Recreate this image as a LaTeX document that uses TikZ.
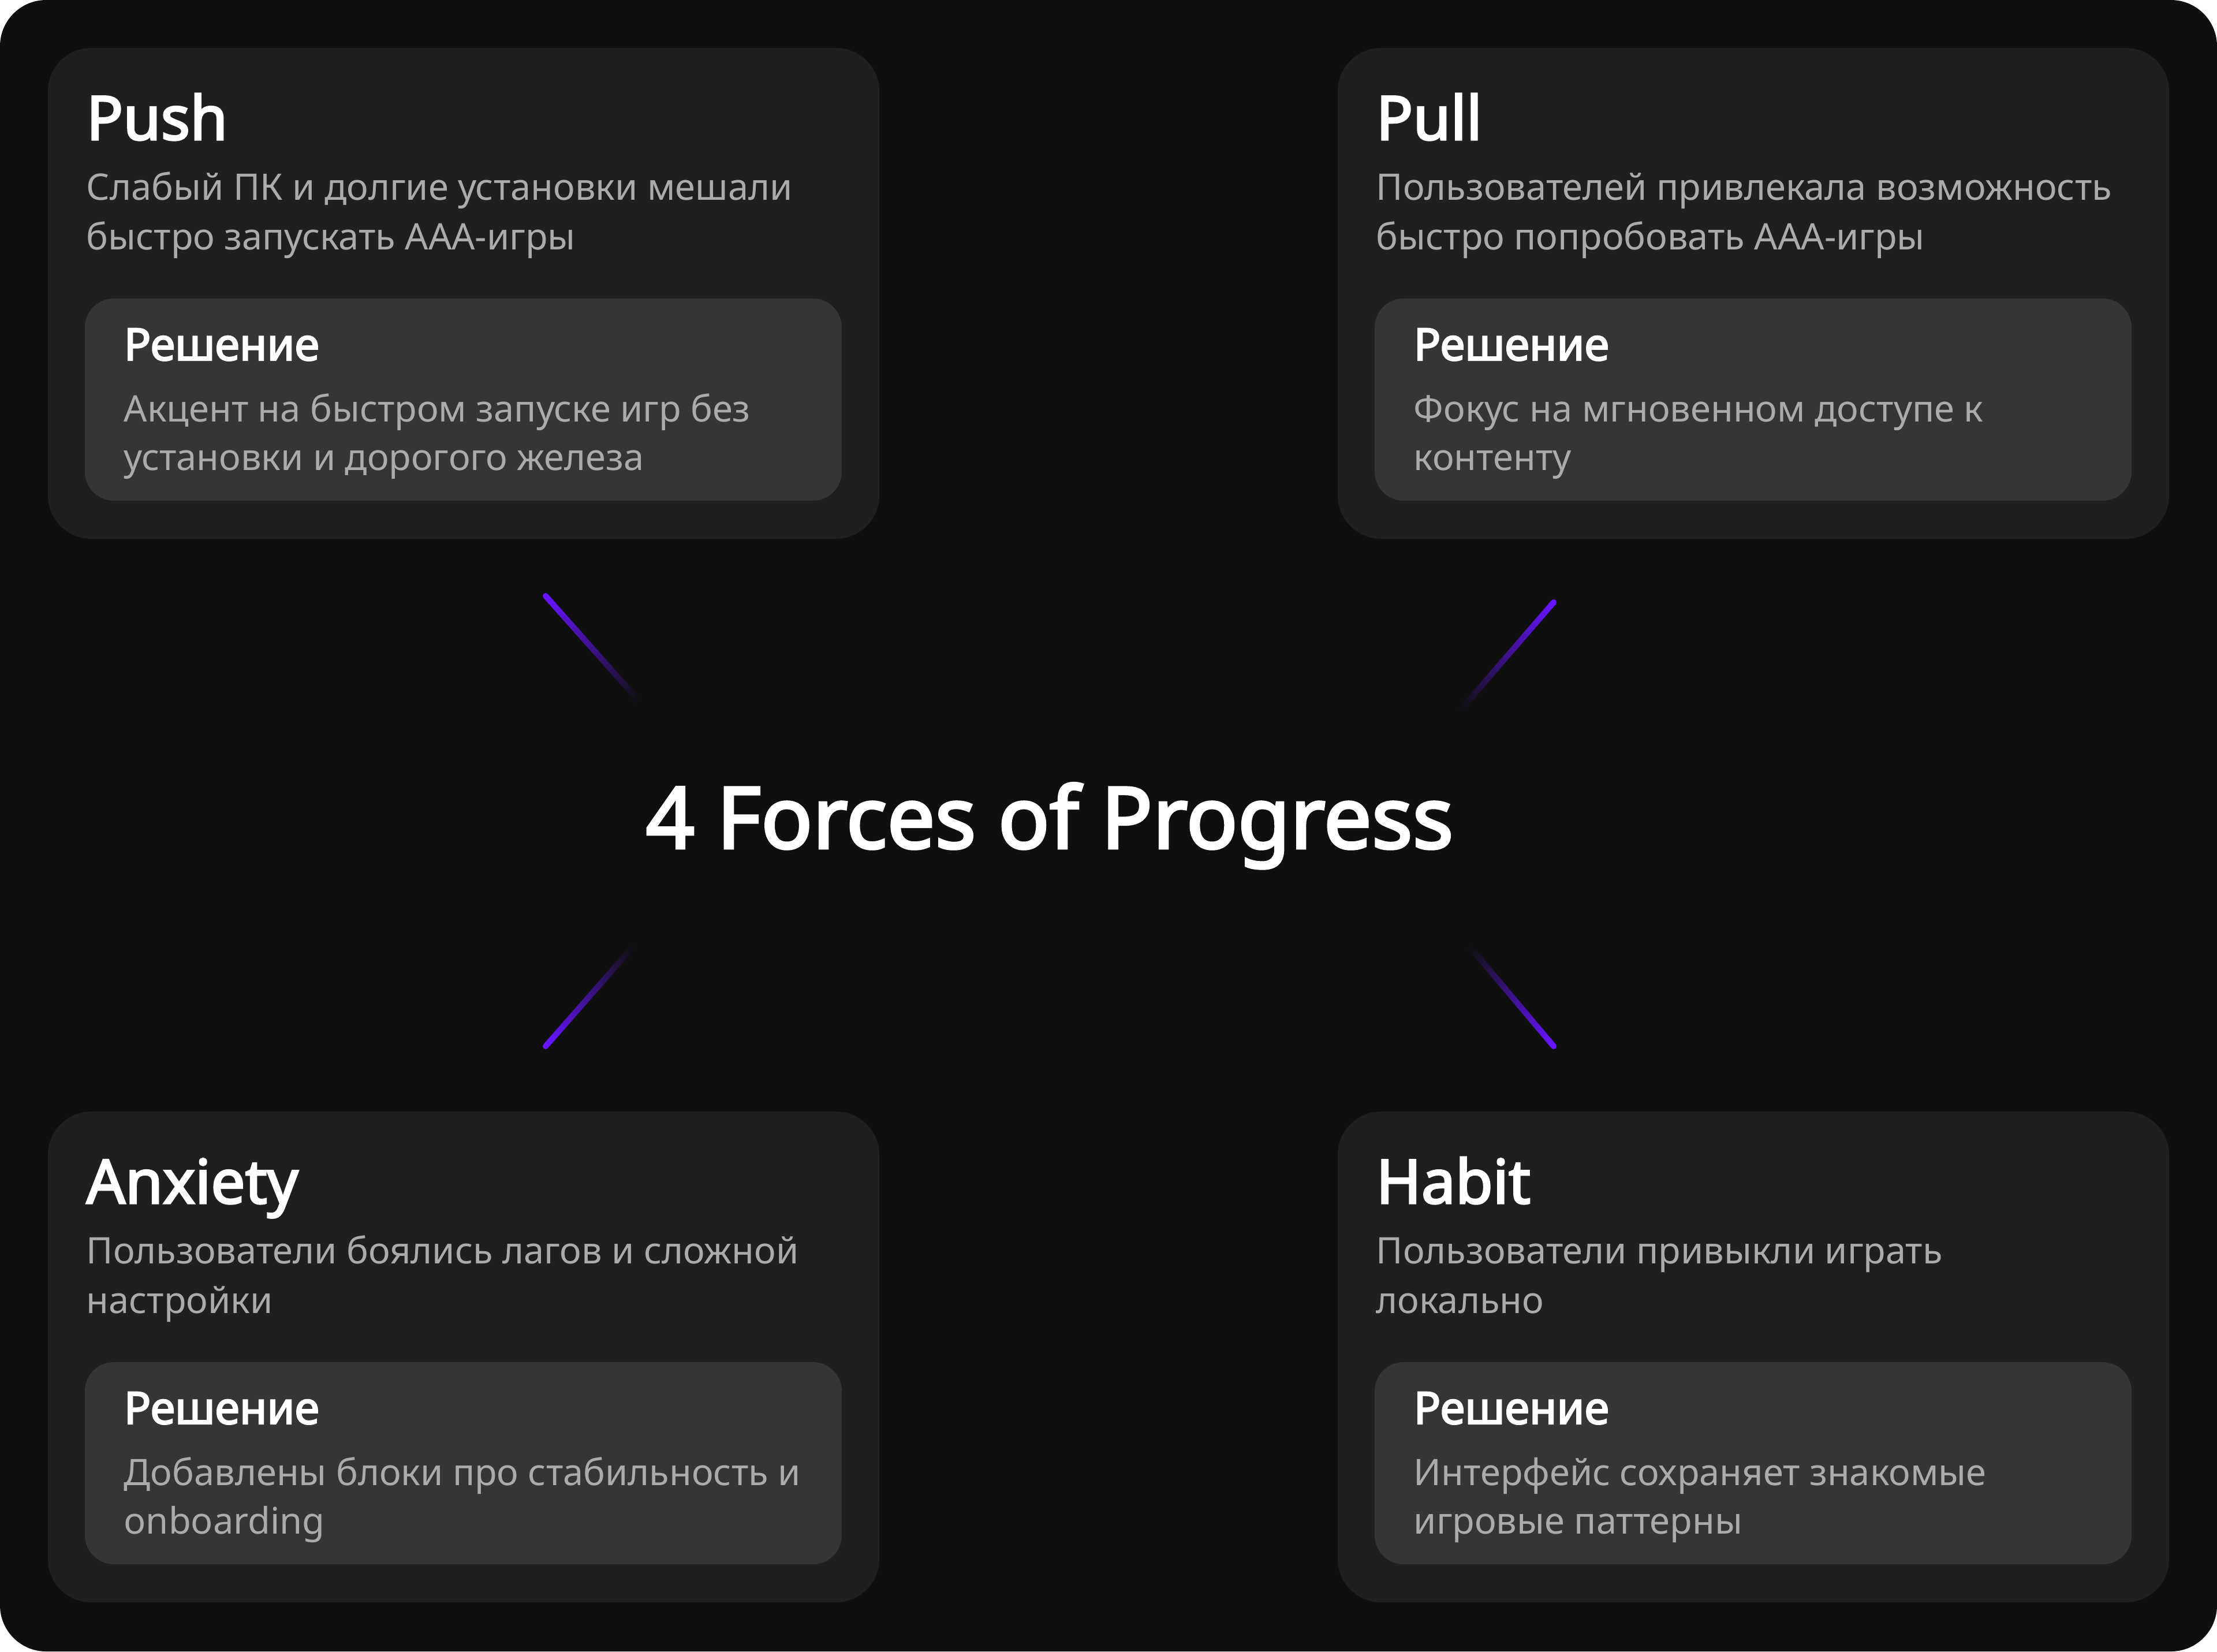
\documentclass[tikz,border=0pt]{standalone}
\usepackage{fontspec}
\setmainfont{Noto Sans}[AutoFakeBold=3]
\usetikzlibrary{calc}
\definecolor{bgdark}{HTML}{0F0F0F}
\definecolor{cardgray}{HTML}{1F1F1F}
\definecolor{solgray}{HTML}{353535}
\definecolor{textgray}{HTML}{ABABAB}
\definecolor{forcepurple}{RGB}{104,20,255}
\begin{document}
\begin{tikzpicture}[x=1cm, y=-1cm,
    card/.style={fill=cardgray, rounded corners=0.75cm},
    solbox/.style={fill=solgray, rounded corners=0.5cm},
    cardtitle/.style={anchor=base west, inner sep=0, text=white, font=\fontsize{30}{36}\selectfont\bfseries},
    soltitle/.style={anchor=base west, inner sep=0, text=white, font=\fontsize{22}{26}\selectfont\bfseries},
    bodytext/.style={anchor=base west, inner sep=0, text=textgray, font=\fontsize{18}{24.5}\selectfont},
    bigtitle/.style={anchor=base, inner sep=0, text=white, font=\fontsize{42}{50}\selectfont\bfseries}]
    \fill[white] (0,0) rectangle (38.4,28.6);
    \useasboundingbox (0,0) rectangle (38.4,28.6);
    \fill[bgdark, rounded corners=0.8cm] (0,0) rectangle (38.4,28.6);

    % Push card
    \begin{scope}[shift={(0,0)}]
    \fill[card] (0.83,0.83) rectangle (15.23,9.33);
    \fill[solbox] (1.47,5.17) rectangle (14.58,8.67);
    \node[cardtitle] (push) at (1.49,2.42) {Push};
    \node[bodytext] (push1) at (1.49,3.46) {Слабый ПК и долгие установки мешали};
    \node[bodytext] (push2) at (1.49,4.32) {быстро запускать AAA-игры};
    \node[soltitle] (pushsol) at (2.14,6.24) {Решение};
    \node[bodytext] (pushsol1) at (2.14,7.30) {Акцент на быстром запуске игр без};
    \node[bodytext] (pushsol2) at (2.14,8.14) {установки и дорогого железа};
    \end{scope}

    % Pull card
    \begin{scope}[shift={(22.34,0)}]
    \fill[card] (0.83,0.83) rectangle (15.23,9.33);
    \fill[solbox] (1.47,5.17) rectangle (14.58,8.67);
    \node[cardtitle] (pull) at (1.49,2.42) {Pull};
    \node[bodytext] (pull1) at (1.49,3.46) {Пользователей привлекала возможность};
    \node[bodytext] (pull2) at (1.49,4.32) {быстро попробовать AAA-игры};
    \node[soltitle] (pullsol) at (2.14,6.24) {Решение};
    \node[bodytext] (pullsol1) at (2.14,7.30) {Фокус на мгновенном доступе к};
    \node[bodytext] (pullsol2) at (2.14,8.14) {контенту};
    \end{scope}

    % Anxiety card
    \begin{scope}[shift={(0,18.42)}]
    \fill[card] (0.83,0.83) rectangle (15.23,9.33);
    \fill[solbox] (1.47,5.17) rectangle (14.58,8.67);
    \node[cardtitle] (anxiety) at (1.49,2.42) {Anxiety};
    \node[bodytext] (anxiety1) at (1.49,3.46) {Пользователи боялись лагов и сложной};
    \node[bodytext] (anxiety2) at (1.49,4.32) {настройки};
    \node[soltitle] (anxietysol) at (2.14,6.24) {Решение};
    \node[bodytext] (anxietysol1) at (2.14,7.30) {Добавлены блоки про стабильность и};
    \node[bodytext] (anxietysol2) at (2.14,8.14) {onboarding};
    \end{scope}

    % Habit card
    \begin{scope}[shift={(22.34,18.42)}]
    \fill[card] (0.83,0.83) rectangle (15.23,9.33);
    \fill[solbox] (1.47,5.17) rectangle (14.58,8.67);
    \node[cardtitle] (habit) at (1.49,2.42) {Habit};
    \node[bodytext] (habit1) at (1.49,3.46) {Пользователи привыкли играть};
    \node[bodytext] (habit2) at (1.49,4.32) {локально};
    \node[soltitle] (habitsol) at (2.14,6.24) {Решение};
    \node[bodytext] (habitsol1) at (2.14,7.30) {Интерфейс сохраняет знакомые};
    \node[bodytext] (habitsol2) at (2.14,8.14) {игровые паттерны};
    \end{scope}

    % centre title
    \node[bigtitle] (forces) at (18.18,14.69) {4 Forces of Progress};

    % glowing strokes
    \coordinate (tla) at (9.45,10.32);  \coordinate (tlb) at (11.05,12.12);
    \coordinate (tra) at (26.91,10.43); \coordinate (trb) at (25.32,12.27);
    \coordinate (bla) at (9.45,18.12);  \coordinate (blb) at (10.95,16.41);
    \coordinate (bra) at (26.91,18.12); \coordinate (brb) at (25.47,16.41);
    \foreach \a/\b in {tla/tlb, tra/trb, bla/blb, bra/brb} {
        \fill[forcepurple] (\a) circle (0.05);
        \foreach \i in {0,...,39} {
            \pgfmathsetmacro{\shade}{100-2.5*\i}
            \draw[forcepurple!\shade!bgdark, line width=0.1cm]
                ($(\a)!\i/40!(\b)$) -- ($(\a)!{(\i+1.4)/40}!(\b)$);
        }
    }
\end{tikzpicture}
\end{document}
